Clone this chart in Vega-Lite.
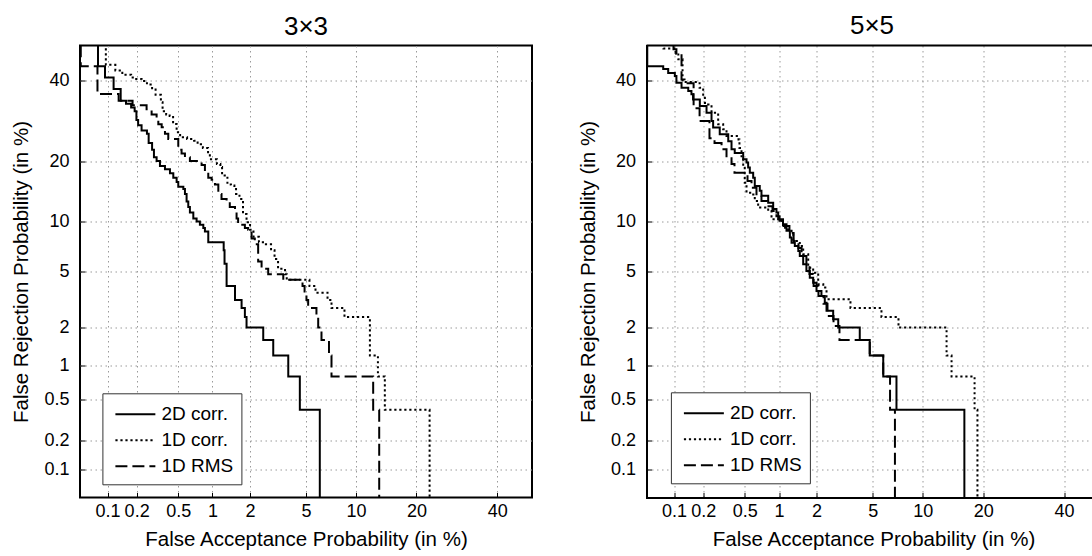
{
  "$schema": "https://vega.github.io/schema/vega-lite/v6.json",
  "background": "white",
  "padding": {"left": 10, "top": 12.5, "right": 0, "bottom": 0},
  "spacing": 114.5,
  "bounds": "flush",
  "config": {
    "font": "Liberation Sans",
    "view": {"stroke": null},
    "axis": {
      "labelFont": "Liberation Sans", "titleFont": "Liberation Sans",
      "labelFontSize": 18, "titleFontSize": 20.5, "titleFontWeight": "normal",
      "labelColor": "black", "titleColor": "black",
      "grid": true, "gridColor": "#9a9a9a", "gridDash": [1.5, 3.5], "gridWidth": 1,
      "tickSize": -5, "tickColor": "black", "tickWidth": 1,
      "labelOverlap": false, "labelBound": false, "labelFlush": false
    },
    "title": {"font": "Liberation Sans", "fontSize": 26, "fontWeight": "normal", "color": "black", "anchor": "middle", "frame": "group", "offset": 6},
    "legend": {
      "title": null, "orient": "none", "strokeColor": "#333", "strokeWidth": 1, "fillColor": "white",
      "padding": 8, "rowPadding": 3, "labelFont": "Liberation Sans", "labelFontSize": 19, "labelColor": "black",
      "symbolType": "M-1,0H2.33", "symbolSize": 576, "symbolStrokeWidth": 2, "symbolStrokeColor": "black",
      "labelOffset": 21, "symbolOffset": 4
    }
  },
  "resolve": {"scale": {"strokeDash": "independent"}, "legend": {"strokeDash": "independent"}},
  "datasets": {
    "curves": [
      {"p":"3x3","m":"2D corr.","k":1,"fa":0.079,"fr":55},
      {"p":"3x3","m":"2D corr.","k":2,"fa":0.079,"fr":44.0},
      {"p":"3x3","m":"2D corr.","k":3,"fa":0.094,"fr":40.8},
      {"p":"3x3","m":"2D corr.","k":4,"fa":0.116,"fr":37.6},
      {"p":"3x3","m":"2D corr.","k":5,"fa":0.1375,"fr":34.4},
      {"p":"3x3","m":"2D corr.","k":6,"fa":0.156,"fr":33.6},
      {"p":"3x3","m":"2D corr.","k":7,"fa":0.176,"fr":32.6},
      {"p":"3x3","m":"2D corr.","k":8,"fa":0.191,"fr":31.6},
      {"p":"3x3","m":"2D corr.","k":9,"fa":0.199,"fr":29.4},
      {"p":"3x3","m":"2D corr.","k":10,"fa":0.207,"fr":28.1},
      {"p":"3x3","m":"2D corr.","k":11,"fa":0.224,"fr":26.8},
      {"p":"3x3","m":"2D corr.","k":12,"fa":0.253,"fr":26.0},
      {"p":"3x3","m":"2D corr.","k":13,"fa":0.263,"fr":23.9},
      {"p":"3x3","m":"2D corr.","k":14,"fa":0.284,"fr":22.4},
      {"p":"3x3","m":"2D corr.","k":15,"fa":0.296,"fr":20.8},
      {"p":"3x3","m":"2D corr.","k":16,"fa":0.314,"fr":20.0},
      {"p":"3x3","m":"2D corr.","k":17,"fa":0.338,"fr":19.0},
      {"p":"3x3","m":"2D corr.","k":18,"fa":0.377,"fr":18.4},
      {"p":"3x3","m":"2D corr.","k":19,"fa":0.420,"fr":17.6},
      {"p":"3x3","m":"2D corr.","k":20,"fa":0.451,"fr":16.8},
      {"p":"3x3","m":"2D corr.","k":21,"fa":0.484,"fr":16.0},
      {"p":"3x3","m":"2D corr.","k":22,"fa":0.501,"fr":15.2},
      {"p":"3x3","m":"2D corr.","k":23,"fa":0.557,"fr":14.8},
      {"p":"3x3","m":"2D corr.","k":24,"fa":0.576,"fr":14.0},
      {"p":"3x3","m":"2D corr.","k":25,"fa":0.596,"fr":12.8},
      {"p":"3x3","m":"2D corr.","k":26,"fa":0.617,"fr":12.0},
      {"p":"3x3","m":"2D corr.","k":27,"fa":0.638,"fr":11.2},
      {"p":"3x3","m":"2D corr.","k":28,"fa":0.684,"fr":10.4},
      {"p":"3x3","m":"2D corr.","k":29,"fa":0.731,"fr":10.0},
      {"p":"3x3","m":"2D corr.","k":30,"fa":0.781,"fr":9.6},
      {"p":"3x3","m":"2D corr.","k":31,"fa":0.836,"fr":9.2},
      {"p":"3x3","m":"2D corr.","k":32,"fa":0.863,"fr":8.8},
      {"p":"3x3","m":"2D corr.","k":33,"fa":0.922,"fr":7.6},
      {"p":"3x3","m":"2D corr.","k":34,"fa":1.24,"fr":6.8},
      {"p":"3x3","m":"2D corr.","k":35,"fa":1.26,"fr":5.6},
      {"p":"3x3","m":"2D corr.","k":36,"fa":1.31,"fr":4.0},
      {"p":"3x3","m":"2D corr.","k":37,"fa":1.53,"fr":3.2},
      {"p":"3x3","m":"2D corr.","k":38,"fa":1.725,"fr":2.8},
      {"p":"3x3","m":"2D corr.","k":39,"fa":1.83,"fr":2.4},
      {"p":"3x3","m":"2D corr.","k":40,"fa":1.885,"fr":2.0},
      {"p":"3x3","m":"2D corr.","k":41,"fa":2.52,"fr":1.6},
      {"p":"3x3","m":"2D corr.","k":42,"fa":2.98,"fr":1.2},
      {"p":"3x3","m":"2D corr.","k":43,"fa":3.80,"fr":0.8},
      {"p":"3x3","m":"2D corr.","k":44,"fa":4.55,"fr":0.4},
      {"p":"3x3","m":"2D corr.","k":45,"fa":6.12,"fr":0.01},

      {"p":"3x3","m":"1D corr.","k":1,"fa":0.096,"fr":55},
      {"p":"3x3","m":"1D corr.","k":2,"fa":0.096,"fr":44.4},
      {"p":"3x3","m":"1D corr.","k":3,"fa":0.121,"fr":42.8},
      {"p":"3x3","m":"1D corr.","k":4,"fa":0.143,"fr":41.6},
      {"p":"3x3","m":"1D corr.","k":5,"fa":0.176,"fr":40.8},
      {"p":"3x3","m":"1D corr.","k":6,"fa":0.191,"fr":40.4},
      {"p":"3x3","m":"1D corr.","k":7,"fa":0.224,"fr":39.8},
      {"p":"3x3","m":"1D corr.","k":8,"fa":0.253,"fr":38.8},
      {"p":"3x3","m":"1D corr.","k":9,"fa":0.284,"fr":37.8},
      {"p":"3x3","m":"1D corr.","k":10,"fa":0.307,"fr":36.0},
      {"p":"3x3","m":"1D corr.","k":11,"fa":0.345,"fr":34.0},
      {"p":"3x3","m":"1D corr.","k":12,"fa":0.358,"fr":31.6},
      {"p":"3x3","m":"1D corr.","k":13,"fa":0.387,"fr":30.8},
      {"p":"3x3","m":"1D corr.","k":14,"fa":0.417,"fr":30.4},
      {"p":"3x3","m":"1D corr.","k":15,"fa":0.449,"fr":28.4},
      {"p":"3x3","m":"1D corr.","k":16,"fa":0.484,"fr":26.4},
      {"p":"3x3","m":"1D corr.","k":17,"fa":0.521,"fr":25.2},
      {"p":"3x3","m":"1D corr.","k":18,"fa":0.602,"fr":24.8},
      {"p":"3x3","m":"1D corr.","k":19,"fa":0.695,"fr":24.4},
      {"p":"3x3","m":"1D corr.","k":20,"fa":0.746,"fr":23.6},
      {"p":"3x3","m":"1D corr.","k":21,"fa":0.829,"fr":22.8},
      {"p":"3x3","m":"1D corr.","k":22,"fa":0.918,"fr":21.6},
      {"p":"3x3","m":"1D corr.","k":23,"fa":0.951,"fr":20.4},
      {"p":"3x3","m":"1D corr.","k":24,"fa":1.09,"fr":19.4},
      {"p":"3x3","m":"1D corr.","k":25,"fa":1.165,"fr":18.8},
      {"p":"3x3","m":"1D corr.","k":26,"fa":1.203,"fr":17.2},
      {"p":"3x3","m":"1D corr.","k":27,"fa":1.33,"fr":15.6},
      {"p":"3x3","m":"1D corr.","k":28,"fa":1.42,"fr":15.4},
      {"p":"3x3","m":"1D corr.","k":29,"fa":1.513,"fr":14.8},
      {"p":"3x3","m":"1D corr.","k":30,"fa":1.56,"fr":14.0},
      {"p":"3x3","m":"1D corr.","k":31,"fa":1.66,"fr":13.2},
      {"p":"3x3","m":"1D corr.","k":32,"fa":1.77,"fr":11.0},
      {"p":"3x3","m":"1D corr.","k":33,"fa":1.885,"fr":9.9},
      {"p":"3x3","m":"1D corr.","k":34,"fa":2.006,"fr":9.0},
      {"p":"3x3","m":"1D corr.","k":35,"fa":2.13,"fr":8.2},
      {"p":"3x3","m":"1D corr.","k":36,"fa":2.34,"fr":7.6},
      {"p":"3x3","m":"1D corr.","k":37,"fa":2.555,"fr":7.4},
      {"p":"3x3","m":"1D corr.","k":38,"fa":2.874,"fr":6.8},
      {"p":"3x3","m":"1D corr.","k":39,"fa":3.045,"fr":6.0},
      {"p":"3x3","m":"1D corr.","k":40,"fa":3.225,"fr":5.2},
      {"p":"3x3","m":"1D corr.","k":41,"fa":3.61,"fr":4.8},
      {"p":"3x3","m":"1D corr.","k":42,"fa":3.71,"fr":4.4},
      {"p":"3x3","m":"1D corr.","k":43,"fa":5.26,"fr":4.0},
      {"p":"3x3","m":"1D corr.","k":44,"fa":5.75,"fr":3.6},
      {"p":"3x3","m":"1D corr.","k":45,"fa":6.83,"fr":3.2},
      {"p":"3x3","m":"1D corr.","k":46,"fa":7.22,"fr":2.8},
      {"p":"3x3","m":"1D corr.","k":47,"fa":8.61,"fr":2.4},
      {"p":"3x3","m":"1D corr.","k":48,"fa":11.9,"fr":1.2},
      {"p":"3x3","m":"1D corr.","k":49,"fa":13.1,"fr":0.8},
      {"p":"3x3","m":"1D corr.","k":50,"fa":14.2,"fr":0.4},
      {"p":"3x3","m":"1D corr.","k":51,"fa":22.8,"fr":0.01},

      {"p":"3x3","m":"1D RMS","k":1,"fa":0.051,"fr":55},
      {"p":"3x3","m":"1D RMS","k":2,"fa":0.051,"fr":44.0},
      {"p":"3x3","m":"1D RMS","k":3,"fa":0.078,"fr":36.2},
      {"p":"3x3","m":"1D RMS","k":4,"fa":0.131,"fr":34.4},
      {"p":"3x3","m":"1D RMS","k":5,"fa":0.182,"fr":33.2},
      {"p":"3x3","m":"1D RMS","k":6,"fa":0.251,"fr":32.1},
      {"p":"3x3","m":"1D RMS","k":7,"fa":0.281,"fr":30.8},
      {"p":"3x3","m":"1D RMS","k":8,"fa":0.314,"fr":30.0},
      {"p":"3x3","m":"1D RMS","k":9,"fa":0.326,"fr":28.3},
      {"p":"3x3","m":"1D RMS","k":10,"fa":0.351,"fr":27.6},
      {"p":"3x3","m":"1D RMS","k":11,"fa":0.377,"fr":26.0},
      {"p":"3x3","m":"1D RMS","k":12,"fa":0.405,"fr":24.8},
      {"p":"3x3","m":"1D RMS","k":13,"fa":0.501,"fr":22.4},
      {"p":"3x3","m":"1D RMS","k":14,"fa":0.537,"fr":21.6},
      {"p":"3x3","m":"1D RMS","k":15,"fa":0.576,"fr":20.8},
      {"p":"3x3","m":"1D RMS","k":16,"fa":0.638,"fr":20.0},
      {"p":"3x3","m":"1D RMS","k":17,"fa":0.808,"fr":19.2},
      {"p":"3x3","m":"1D RMS","k":18,"fa":0.863,"fr":18.0},
      {"p":"3x3","m":"1D RMS","k":19,"fa":0.922,"fr":16.8},
      {"p":"3x3","m":"1D RMS","k":20,"fa":0.984,"fr":16.4},
      {"p":"3x3","m":"1D RMS","k":21,"fa":1.05,"fr":15.6},
      {"p":"3x3","m":"1D RMS","k":22,"fa":1.12,"fr":14.0},
      {"p":"3x3","m":"1D RMS","k":23,"fa":1.19,"fr":13.2},
      {"p":"3x3","m":"1D RMS","k":24,"fa":1.31,"fr":12.8},
      {"p":"3x3","m":"1D RMS","k":25,"fa":1.39,"fr":12.0},
      {"p":"3x3","m":"1D RMS","k":26,"fa":1.53,"fr":11.6},
      {"p":"3x3","m":"1D RMS","k":27,"fa":1.575,"fr":10.4},
      {"p":"3x3","m":"1D RMS","k":28,"fa":1.62,"fr":9.6},
      {"p":"3x3","m":"1D RMS","k":29,"fa":1.83,"fr":9.2},
      {"p":"3x3","m":"1D RMS","k":30,"fa":1.94,"fr":9.0},
      {"p":"3x3","m":"1D RMS","k":31,"fa":2.06,"fr":8.0},
      {"p":"3x3","m":"1D RMS","k":32,"fa":2.18,"fr":7.4},
      {"p":"3x3","m":"1D RMS","k":33,"fa":2.31,"fr":5.8},
      {"p":"3x3","m":"1D RMS","k":34,"fa":2.45,"fr":5.2},
      {"p":"3x3","m":"1D RMS","k":35,"fa":2.74,"fr":4.8},
      {"p":"3x3","m":"1D RMS","k":36,"fa":3.51,"fr":4.4},
      {"p":"3x3","m":"1D RMS","k":37,"fa":4.74,"fr":4.0},
      {"p":"3x3","m":"1D RMS","k":38,"fa":4.89,"fr":3.6},
      {"p":"3x3","m":"1D RMS","k":39,"fa":5.03,"fr":3.2},
      {"p":"3x3","m":"1D RMS","k":40,"fa":5.16,"fr":2.8},
      {"p":"3x3","m":"1D RMS","k":41,"fa":5.83,"fr":2.4},
      {"p":"3x3","m":"1D RMS","k":42,"fa":5.98,"fr":2.0},
      {"p":"3x3","m":"1D RMS","k":43,"fa":6.27,"fr":1.6},
      {"p":"3x3","m":"1D RMS","k":44,"fa":6.97,"fr":1.2},
      {"p":"3x3","m":"1D RMS","k":45,"fa":7.22,"fr":0.8},
      {"p":"3x3","m":"1D RMS","k":46,"fa":12.38,"fr":0.4},
      {"p":"3x3","m":"1D RMS","k":47,"fa":13.3,"fr":0.01},

      {"p":"5x5","m":"2D corr.","k":1,"fa":0.051,"fr":55},
      {"p":"5x5","m":"2D corr.","k":2,"fa":0.051,"fr":44.0},
      {"p":"5x5","m":"2D corr.","k":3,"fa":0.0765,"fr":43.2},
      {"p":"5x5","m":"2D corr.","k":4,"fa":0.0866,"fr":42.1},
      {"p":"5x5","m":"2D corr.","k":5,"fa":0.102,"fr":41.2},
      {"p":"5x5","m":"2D corr.","k":6,"fa":0.106,"fr":39.3},
      {"p":"5x5","m":"2D corr.","k":7,"fa":0.120,"fr":37.9},
      {"p":"5x5","m":"2D corr.","k":8,"fa":0.141,"fr":37.0},
      {"p":"5x5","m":"2D corr.","k":9,"fa":0.152,"fr":36.1},
      {"p":"5x5","m":"2D corr.","k":10,"fa":0.158,"fr":34.7},
      {"p":"5x5","m":"2D corr.","k":11,"fa":0.185,"fr":33.0},
      {"p":"5x5","m":"2D corr.","k":12,"fa":0.216,"fr":31.2},
      {"p":"5x5","m":"2D corr.","k":13,"fa":0.242,"fr":29.1},
      {"p":"5x5","m":"2D corr.","k":14,"fa":0.251,"fr":27.5},
      {"p":"5x5","m":"2D corr.","k":15,"fa":0.291,"fr":25.9},
      {"p":"5x5","m":"2D corr.","k":16,"fa":0.351,"fr":24.3},
      {"p":"5x5","m":"2D corr.","k":17,"fa":0.377,"fr":22.5},
      {"p":"5x5","m":"2D corr.","k":18,"fa":0.404,"fr":21.7},
      {"p":"5x5","m":"2D corr.","k":19,"fa":0.484,"fr":20.4},
      {"p":"5x5","m":"2D corr.","k":20,"fa":0.519,"fr":19.7},
      {"p":"5x5","m":"2D corr.","k":21,"fa":0.537,"fr":18.7},
      {"p":"5x5","m":"2D corr.","k":22,"fa":0.556,"fr":17.7},
      {"p":"5x5","m":"2D corr.","k":23,"fa":0.596,"fr":16.8},
      {"p":"5x5","m":"2D corr.","k":24,"fa":0.616,"fr":15.3},
      {"p":"5x5","m":"2D corr.","k":25,"fa":0.682,"fr":14.5},
      {"p":"5x5","m":"2D corr.","k":26,"fa":0.706,"fr":13.7},
      {"p":"5x5","m":"2D corr.","k":27,"fa":0.808,"fr":12.6},
      {"p":"5x5","m":"2D corr.","k":28,"fa":0.892,"fr":11.7},
      {"p":"5x5","m":"2D corr.","k":29,"fa":0.951,"fr":11.2},
      {"p":"5x5","m":"2D corr.","k":30,"fa":0.984,"fr":10.3},
      {"p":"5x5","m":"2D corr.","k":31,"fa":1.08,"fr":9.65},
      {"p":"5x5","m":"2D corr.","k":32,"fa":1.154,"fr":8.86},
      {"p":"5x5","m":"2D corr.","k":33,"fa":1.23,"fr":8.1},
      {"p":"5x5","m":"2D corr.","k":34,"fa":1.27,"fr":7.56},
      {"p":"5x5","m":"2D corr.","k":35,"fa":1.35,"fr":7.22},
      {"p":"5x5","m":"2D corr.","k":36,"fa":1.44,"fr":6.74},
      {"p":"5x5","m":"2D corr.","k":37,"fa":1.48,"fr":6.28},
      {"p":"5x5","m":"2D corr.","k":38,"fa":1.575,"fr":5.56},
      {"p":"5x5","m":"2D corr.","k":39,"fa":1.67,"fr":5.04},
      {"p":"5x5","m":"2D corr.","k":40,"fa":1.775,"fr":4.55},
      {"p":"5x5","m":"2D corr.","k":41,"fa":1.885,"fr":4.21},
      {"p":"5x5","m":"2D corr.","k":42,"fa":2.0,"fr":3.70},
      {"p":"5x5","m":"2D corr.","k":43,"fa":2.18,"fr":3.41},
      {"p":"5x5","m":"2D corr.","k":44,"fa":2.31,"fr":3.06},
      {"p":"5x5","m":"2D corr.","k":45,"fa":2.38,"fr":2.67},
      {"p":"5x5","m":"2D corr.","k":46,"fa":2.665,"fr":2.31},
      {"p":"5x5","m":"2D corr.","k":47,"fa":2.90,"fr":2.0},
      {"p":"5x5","m":"2D corr.","k":48,"fa":4.10,"fr":1.6},
      {"p":"5x5","m":"2D corr.","k":49,"fa":4.78,"fr":1.2},
      {"p":"5x5","m":"2D corr.","k":50,"fa":5.84,"fr":0.8},
      {"p":"5x5","m":"2D corr.","k":51,"fa":7.05,"fr":0.4},
      {"p":"5x5","m":"2D corr.","k":52,"fa":16.4,"fr":0.01},

      {"p":"5x5","m":"1D corr.","k":1,"fa":0.077,"fr":55},
      {"p":"5x5","m":"1D corr.","k":2,"fa":0.077,"fr":49.1},
      {"p":"5x5","m":"1D corr.","k":3,"fa":0.104,"fr":47.8},
      {"p":"5x5","m":"1D corr.","k":4,"fa":0.111,"fr":46.0},
      {"p":"5x5","m":"1D corr.","k":5,"fa":0.123,"fr":39.5},
      {"p":"5x5","m":"1D corr.","k":6,"fa":0.184,"fr":37.9},
      {"p":"5x5","m":"1D corr.","k":7,"fa":0.200,"fr":35.6},
      {"p":"5x5","m":"1D corr.","k":8,"fa":0.208,"fr":33.8},
      {"p":"5x5","m":"1D corr.","k":9,"fa":0.224,"fr":33.4},
      {"p":"5x5","m":"1D corr.","k":10,"fa":0.242,"fr":31.2},
      {"p":"5x5","m":"1D corr.","k":11,"fa":0.281,"fr":28.3},
      {"p":"5x5","m":"1D corr.","k":12,"fa":0.314,"fr":27.1},
      {"p":"5x5","m":"1D corr.","k":13,"fa":0.338,"fr":25.5},
      {"p":"5x5","m":"1D corr.","k":14,"fa":0.438,"fr":24.7},
      {"p":"5x5","m":"1D corr.","k":15,"fa":0.447,"fr":22.8},
      {"p":"5x5","m":"1D corr.","k":16,"fa":0.467,"fr":21.0},
      {"p":"5x5","m":"1D corr.","k":17,"fa":0.484,"fr":19.0},
      {"p":"5x5","m":"1D corr.","k":18,"fa":0.500,"fr":15.9},
      {"p":"5x5","m":"1D corr.","k":19,"fa":0.519,"fr":14.2},
      {"p":"5x5","m":"1D corr.","k":20,"fa":0.576,"fr":13.9},
      {"p":"5x5","m":"1D corr.","k":21,"fa":0.616,"fr":12.9},
      {"p":"5x5","m":"1D corr.","k":22,"fa":0.660,"fr":11.9},
      {"p":"5x5","m":"1D corr.","k":23,"fa":0.808,"fr":11.4},
      {"p":"5x5","m":"1D corr.","k":24,"fa":0.863,"fr":10.3},
      {"p":"5x5","m":"1D corr.","k":25,"fa":1.015,"fr":10.1},
      {"p":"5x5","m":"1D corr.","k":26,"fa":1.08,"fr":9.24},
      {"p":"5x5","m":"1D corr.","k":27,"fa":1.19,"fr":8.86},
      {"p":"5x5","m":"1D corr.","k":28,"fa":1.27,"fr":8.47},
      {"p":"5x5","m":"1D corr.","k":29,"fa":1.31,"fr":7.73},
      {"p":"5x5","m":"1D corr.","k":30,"fa":1.48,"fr":7.22},
      {"p":"5x5","m":"1D corr.","k":31,"fa":1.575,"fr":6.43},
      {"p":"5x5","m":"1D corr.","k":32,"fa":1.725,"fr":5.29},
      {"p":"5x5","m":"1D corr.","k":33,"fa":1.885,"fr":4.91},
      {"p":"5x5","m":"1D corr.","k":34,"fa":2.06,"fr":4.11},
      {"p":"5x5","m":"1D corr.","k":35,"fa":2.25,"fr":3.90},
      {"p":"5x5","m":"1D corr.","k":36,"fa":2.38,"fr":3.24},
      {"p":"5x5","m":"1D corr.","k":37,"fa":3.54,"fr":2.8},
      {"p":"5x5","m":"1D corr.","k":38,"fa":5.69,"fr":2.4},
      {"p":"5x5","m":"1D corr.","k":39,"fa":7.25,"fr":2.0},
      {"p":"5x5","m":"1D corr.","k":40,"fa":13.4,"fr":1.2},
      {"p":"5x5","m":"1D corr.","k":41,"fa":14.2,"fr":0.8},
      {"p":"5x5","m":"1D corr.","k":42,"fa":18.3,"fr":0.4},
      {"p":"5x5","m":"1D corr.","k":43,"fa":18.86,"fr":0.01},

      {"p":"5x5","m":"1D RMS","k":1,"fa":0.0987,"fr":55},
      {"p":"5x5","m":"1D RMS","k":2,"fa":0.0987,"fr":48.9},
      {"p":"5x5","m":"1D RMS","k":3,"fa":0.106,"fr":47.5},
      {"p":"5x5","m":"1D RMS","k":4,"fa":0.120,"fr":40.2},
      {"p":"5x5","m":"1D RMS","k":5,"fa":0.129,"fr":39.2},
      {"p":"5x5","m":"1D RMS","k":6,"fa":0.160,"fr":32.4},
      {"p":"5x5","m":"1D RMS","k":7,"fa":0.184,"fr":29.1},
      {"p":"5x5","m":"1D RMS","k":8,"fa":0.231,"fr":25.0},
      {"p":"5x5","m":"1D RMS","k":9,"fa":0.259,"fr":23.9},
      {"p":"5x5","m":"1D RMS","k":10,"fa":0.303,"fr":23.2},
      {"p":"5x5","m":"1D RMS","k":11,"fa":0.316,"fr":22.5},
      {"p":"5x5","m":"1D RMS","k":12,"fa":0.338,"fr":20.6},
      {"p":"5x5","m":"1D RMS","k":13,"fa":0.377,"fr":19.4},
      {"p":"5x5","m":"1D RMS","k":14,"fa":0.402,"fr":17.7},
      {"p":"5x5","m":"1D RMS","k":15,"fa":0.530,"fr":16.2},
      {"p":"5x5","m":"1D RMS","k":16,"fa":0.576,"fr":15.0},
      {"p":"5x5","m":"1D RMS","k":17,"fa":0.638,"fr":13.7},
      {"p":"5x5","m":"1D RMS","k":18,"fa":0.706,"fr":12.9},
      {"p":"5x5","m":"1D RMS","k":19,"fa":0.797,"fr":12.1},
      {"p":"5x5","m":"1D RMS","k":20,"fa":0.880,"fr":11.4},
      {"p":"5x5","m":"1D RMS","k":21,"fa":0.951,"fr":10.7},
      {"p":"5x5","m":"1D RMS","k":22,"fa":1.01,"fr":10.1},
      {"p":"5x5","m":"1D RMS","k":23,"fa":1.09,"fr":9.44},
      {"p":"5x5","m":"1D RMS","k":24,"fa":1.22,"fr":8.62},
      {"p":"5x5","m":"1D RMS","k":25,"fa":1.32,"fr":7.73},
      {"p":"5x5","m":"1D RMS","k":26,"fa":1.445,"fr":7.02},
      {"p":"5x5","m":"1D RMS","k":27,"fa":1.53,"fr":6.28},
      {"p":"5x5","m":"1D RMS","k":28,"fa":1.67,"fr":5.42},
      {"p":"5x5","m":"1D RMS","k":29,"fa":1.765,"fr":4.81},
      {"p":"5x5","m":"1D RMS","k":30,"fa":1.90,"fr":4.0},
      {"p":"5x5","m":"1D RMS","k":31,"fa":2.07,"fr":3.41},
      {"p":"5x5","m":"1D RMS","k":32,"fa":2.26,"fr":3.0},
      {"p":"5x5","m":"1D RMS","k":33,"fa":2.42,"fr":2.45},
      {"p":"5x5","m":"1D RMS","k":34,"fa":2.68,"fr":2.06},
      {"p":"5x5","m":"1D RMS","k":35,"fa":2.96,"fr":1.6},
      {"p":"5x5","m":"1D RMS","k":36,"fa":4.78,"fr":1.2},
      {"p":"5x5","m":"1D RMS","k":37,"fa":5.84,"fr":0.8},
      {"p":"5x5","m":"1D RMS","k":38,"fa":6.44,"fr":0.4},
      {"p":"5x5","m":"1D RMS","k":39,"fa":6.90,"fr":0.01}
    ]
  },
  "hconcat": [
    {
      "title": {"text": "3×3"},
      "width": 452,
      "height": 452,
      "view": {"stroke": "black", "strokeWidth": 2},
      "data": {"name": "curves"},
      "transform": [
        {"filter": "datum.p == '3x3'"},
        {"calculate": "quantileNormal(datum.fa / 100)", "as": "zx"},
        {"calculate": "quantileNormal(datum.fr / 100)", "as": "zy"}
      ],
      "mark": {"type": "line", "interpolate": "step-after", "clip": true, "strokeWidth": 2, "color": "black"},
      "encoding": {
        "x": {
          "field": "zx", "type": "quantitative",
          "scale": {"domain": [-3.2905, 0], "nice": false, "zero": false},
          "axis": {
            "title": "False Acceptance Probability (in %)",
            "values": [-3.0902, -2.8782, -2.5758, -2.3263, -2.0537, -1.6449, -1.2816, -0.8416, -0.2533],
            "labelExpr": "format(cumulativeNormal(datum.value) * 100, '.1~r')",
            "domain": false, "labelPadding": 10, "titlePadding": 9
          }
        },
        "y": {
          "field": "zy", "type": "quantitative",
          "scale": {"domain": [-3.2905, 0], "nice": false, "zero": false},
          "axis": {
            "title": "False Rejection Probability (in %)",
            "values": [-3.0902, -2.8782, -2.5758, -2.3263, -2.0537, -1.6449, -1.2816, -0.8416, -0.2533],
            "labelExpr": "format(cumulativeNormal(datum.value) * 100, '.1~r')",
            "domain": false, "labelPadding": 16, "titlePadding": 12
          }
        },
        "strokeDash": {
          "field": "m", "type": "nominal",
          "scale": {"domain": ["2D corr.", "1D corr.", "1D RMS"], "range": [[1, 0], [2.2, 2.8], [12, 5]]},
          "legend": {"legendX": 22.4, "legendY": 347.8}
        },
        "order": {"field": "k"}
      }
    },
    {
      "title": {"text": "5×5", "dx": 2.5},
      "width": 446,
      "height": 452,
      "view": {"stroke": null},
      "layer": [
        {
          "data": {"name": "curves"},
          "transform": [
            {"filter": "datum.p == '5x5'"},
            {"calculate": "quantileNormal(datum.fa / 100)", "as": "zx"},
            {"calculate": "quantileNormal(datum.fr / 100)", "as": "zy"}
          ],
          "mark": {"type": "line", "interpolate": "step-after", "clip": true, "strokeWidth": 2, "color": "black"},
          "encoding": {
            "x": {
              "field": "zx", "type": "quantitative",
              "scale": {"domain": [-3.2905, -0.0461], "nice": false, "zero": false},
              "axis": {
                "title": "False Acceptance Probability (in %)",
                "values": [-3.0902, -2.8782, -2.5758, -2.3263, -2.0537, -1.6449, -1.2816, -0.8416, -0.2533],
                "labelExpr": "format(cumulativeNormal(datum.value) * 100, '.1~r')",
                "domain": true, "domainColor": "black", "domainWidth": 2, "domainCap": "square",
                "labelPadding": 10, "titlePadding": 9, "titleX": 227
              }
            },
            "y": {
              "field": "zy", "type": "quantitative",
              "scale": {"domain": [-3.2905, 0], "nice": false, "zero": false},
              "axis": {
                "title": "False Rejection Probability (in %)",
                "values": [-3.0902, -2.8782, -2.5758, -2.3263, -2.0537, -1.6449, -1.2816, -0.8416, -0.2533],
                "labelExpr": "format(cumulativeNormal(datum.value) * 100, '.1~r')",
                "domain": true, "domainColor": "black", "domainWidth": 2, "domainCap": "square",
                "labelPadding": 16, "titlePadding": 12
              }
            },
            "strokeDash": {
              "field": "m", "type": "nominal",
              "scale": {"domain": ["2D corr.", "1D corr.", "1D RMS"], "range": [[1, 0], [2.2, 2.8], [12, 5]]},
              "legend": {"legendX": 24.4, "legendY": 346.8}
            },
            "order": {"field": "k"}
          }
        },
        {
          "data": {"values": [{}]},
          "mark": {"type": "rule", "strokeWidth": 2, "color": "black"},
          "encoding": {"y": {"datum": 0}}
        }
      ]
    }
  ]
}
